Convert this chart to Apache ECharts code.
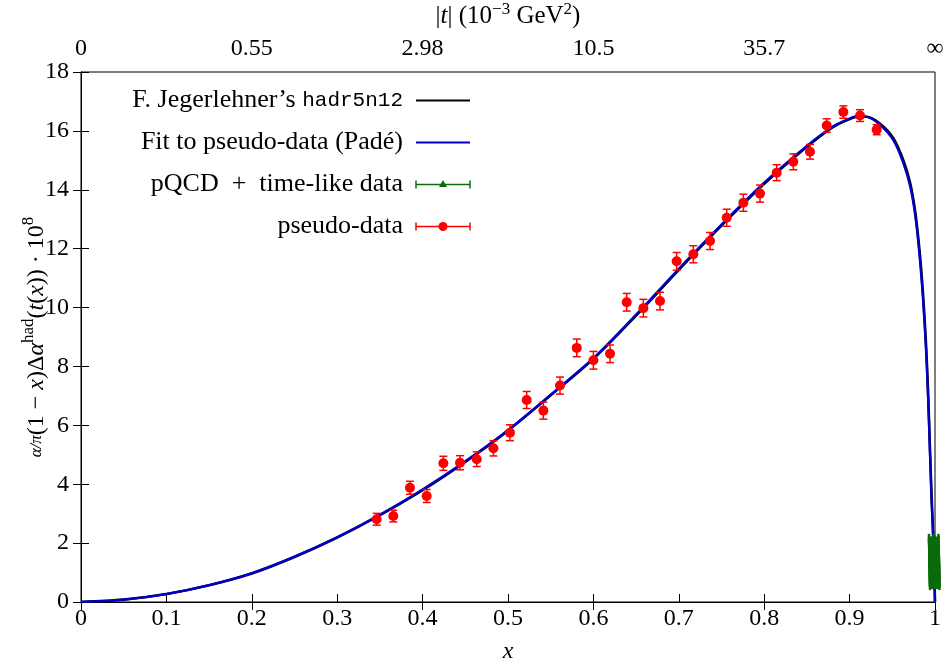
<!DOCTYPE html>
<html>
<head>
<meta charset="utf-8">
<script src="https://cdn.jsdelivr.net/npm/echarts@6/dist/echarts.min.js"></script>
<style>
html,body{margin:0;padding:0;background:#fff;}
#chart{width:947px;height:668px;}
</style>
</head>
<body>
<div id="chart"></div>
<script>
// ---- data ----
const xTickLabels = ['0','0.1','0.2','0.3','0.4','0.5','0.6','0.7','0.8','0.9','1'];
const topTickLabels = ['0','0.55','2.98','10.5','35.7','∞'];
const yTickLabels = ['0','2','4','6','8','10','12','14','16','18'];

// F. Jegerlehner's hadr5n12
const hadrX = [0,0.05,0.10,0.15,0.20,0.25,0.30,0.35,0.40,0.45,0.50,0.55,0.60,0.65,0.70,0.75,0.80,0.85,0.88,0.90,0.91,0.92,0.935,0.951,0.963,0.971,0.977,0.982,0.986,0.9895,0.992,0.994,0.996,0.9977,0.999,1.0];
const hadrY = [0,0.08,0.27,0.57,0.97,1.53,2.19,2.95,3.80,4.76,5.82,7.02,8.26,9.73,11.28,12.78,14.20,15.46,16.12,16.40,16.48,16.48,16.26,15.76,15.00,14.22,13.22,11.90,10.45,8.75,7.05,5.30,3.58,2.40,1.25,0];

// Fit to pseudo-data (Padé)
const padeX = [0,0.05,0.10,0.15,0.20,0.25,0.30,0.35,0.40,0.45,0.50,0.55,0.60,0.65,0.70,0.75,0.80,0.85,0.88,0.90,0.91,0.92,0.935,0.951,0.963,0.971,0.977,0.982,0.986,0.9895,0.992,0.994,0.996,0.9977,0.999,1.0];
const padeY = [0,0.08,0.27,0.57,0.98,1.54,2.20,2.96,3.82,4.78,5.84,7.04,8.28,9.76,11.32,12.82,14.24,15.49,16.14,16.42,16.50,16.48,16.22,15.69,14.90,14.10,13.09,11.73,10.26,8.56,6.86,5.16,3.46,2.33,1.20,0];

// pseudo-data
const pseudoX = [0.3462,0.3657,0.3852,0.4048,0.4243,0.4438,0.4634,0.4829,0.5023,0.5219,0.5414,0.5609,0.5805,0.6000,0.6195,0.6390,0.6585,0.6780,0.6975,0.7170,0.7366,0.7561,0.7756,0.7951,0.8146,0.8341,0.8536,0.8732,0.8927,0.9122,0.9317];
const pseudoY = [2.81,2.92,3.88,3.60,4.71,4.73,4.85,5.22,5.75,6.86,6.50,7.35,8.63,8.21,8.43,10.18,9.98,10.22,11.57,11.81,12.26,13.05,13.56,13.87,14.58,14.95,15.29,16.18,16.64,16.52,16.04];
const pseudoErr = [0.20,0.20,0.22,0.22,0.24,0.24,0.25,0.26,0.27,0.29,0.29,0.29,0.30,0.30,0.30,0.30,0.30,0.30,0.30,0.29,0.29,0.29,0.29,0.29,0.27,0.27,0.25,0.23,0.21,0.20,0.17];

// pQCD + time-like data
const pqcdX = [0.9985,0.9986,0.9986,0.9987,0.9987,0.9988,0.9988,0.9989,0.9989,0.9990,0.9990,0.9991,0.9991,0.9992,0.9992,0.9993,0.9993,0.9994,0.9994,0.9995,0.9995,0.9996,0.9996,0.9997];
const pqcdY = [2.18,2.10,2.03,1.96,1.89,1.82,1.75,1.68,1.61,1.54,1.47,1.40,1.33,1.26,1.19,1.12,1.05,0.98,0.91,0.84,0.77,0.70,0.62,0.54];
const pqcdErr = [0.0055,0.0055,0.0055,0.0055,0.0055,0.0055,0.0055,0.0055,0.0055,0.0055,0.0055,0.0055,0.0055,0.0055,0.0055,0.0055,0.0055,0.0055,0.0055,0.0055,0.0055,0.0055,0.0055,0.0055];

// ---- build ----
const zip2 = (a,b) => a.map((v,i)=>[v,b[i]]);
const zip3 = (a,b,c) => a.map((v,i)=>[v,b[i],c[i]]);

const SERIF = 'Liberation Serif';
const RED = '#ff0000', BLUE = '#0000cc', GREEN = '#0b6b0b';

const chart = echarts.init(document.getElementById('chart'), null, {renderer:'canvas'});

const tickStyle = {show:true, inside:true, length:8, lineStyle:{color:'#000', width:1}};
const lineStyleAx = {show:true, lineStyle:{color:'#000', width:1}};

const option = {
  animation:false,
  backgroundColor:'#fff',
  textStyle:{fontFamily:SERIF},
  grid:{left:81, right:12, top:72, height:530, show:true, borderColor:'#000', borderWidth:1,
        backgroundColor:'transparent', containLabel:false, outerBoundsMode:'none'},
  xAxis:[
    {type:'value', position:'bottom', min:0, max:1, interval:0.1,
     axisLine:lineStyleAx, axisTick:tickStyle, splitLine:{show:false},
     axisLabel:{color:'#000', fontFamily:SERIF, fontSize:24, margin:5,
       formatter:(v)=>xTickLabels[Math.round(v*10)]},
     name:'{i|x}', nameLocation:'middle', nameGap:38,
     nameTextStyle:{color:'#000', fontFamily:SERIF, fontSize:24, rich:{i:{fontStyle:'italic', fontFamily:SERIF, fontSize:24}}}
    },
    {type:'value', position:'top', min:0, max:1, interval:0.2,
     axisLine:lineStyleAx, axisTick:tickStyle, splitLine:{show:false},
     axisLabel:{color:'#000', fontFamily:SERIF, fontSize:24, margin:11,
       formatter:(v)=>topTickLabels[Math.round(v*5)]},
     name:'|{i|t}| (10{s|−3} GeV{s|2})', nameLocation:'middle', nameGap:40,
     nameTextStyle:{color:'#000', fontFamily:SERIF, fontSize:25,
       rich:{i:{fontStyle:'italic', fontFamily:SERIF, fontSize:25},
             s:{fontFamily:SERIF, fontSize:17, padding:[0,0,14,0]}}}
    }
  ],
  yAxis:[
    {type:'value', position:'left', min:0, max:18, interval:2,
     axisLine:lineStyleAx, axisTick:tickStyle, splitLine:{show:false},
     axisLabel:{color:'#000', fontFamily:SERIF, fontSize:24, margin:12,
       formatter:(v)=>yTickLabels[Math.round(v/2)]},
     name:'{f|α/π}(1 − {i|x})Δ{i|α}{s|had}({i|t}({i|x})) · 10{s|8}', nameLocation:'middle', nameGap:28, nameRotate:90,
     nameMoveOverlap:false,
     nameTextStyle:{color:'#000', fontFamily:SERIF, fontSize:24,
       rich:{i:{fontStyle:'italic', fontFamily:SERIF, fontSize:24},
             f:{fontStyle:'italic', fontFamily:SERIF, fontSize:17},
             s:{fontFamily:SERIF, fontSize:17, padding:[0,0,16,0]}}}
    },
    {type:'value', position:'right', min:0, max:18, interval:2,
     axisLine:lineStyleAx, axisTick:tickStyle, splitLine:{show:false},
     axisLabel:{show:false}}
  ],
  series:[
    {name:"F. Jegerlehner's hadr5n12", type:'line', xAxisIndex:0, yAxisIndex:0,
     data:zip2(hadrX,hadrY), showSymbol:false, smooth:0.3, z:2,
     lineStyle:{color:'#000', width:2.6}},
    {name:'Fit to pseudo-data (Padé)', type:'line', xAxisIndex:0, yAxisIndex:0,
     data:zip2(padeX,padeY), showSymbol:false, smooth:0.3, z:3,
     lineStyle:{color:BLUE, width:2.3}},
    {name:'pseudo-data err', type:'custom', xAxisIndex:0, yAxisIndex:0, z:4,
     data:zip3(pseudoX,pseudoY,pseudoErr),
     encode:{x:0, y:1},
     renderItem:(params, api)=>{
       const x=api.value(0), y=api.value(1), e=api.value(2);
       const t=api.coord([x,y+e]), b=api.coord([x,y-e]);
       const hw=4, st={stroke:RED, lineWidth:1.5};
       return {type:'group', children:[
         {type:'line', shape:{x1:t[0],y1:t[1],x2:b[0],y2:b[1]}, style:st},
         {type:'line', shape:{x1:t[0]-hw,y1:t[1],x2:t[0]+hw,y2:t[1]}, style:st},
         {type:'line', shape:{x1:b[0]-hw,y1:b[1],x2:b[0]+hw,y2:b[1]}, style:st}
       ]};
     }},
    {name:'pseudo-data', type:'scatter', xAxisIndex:0, yAxisIndex:0, z:5,
     data:zip2(pseudoX,pseudoY), symbol:'circle', symbolSize:10,
     itemStyle:{color:RED, opacity:1}},
    {name:'pQCD + time-like data', type:'custom', xAxisIndex:0, yAxisIndex:0, z:6,
     data:zip3(pqcdX,pqcdY,pqcdErr),
     encode:{x:0, y:1},
     renderItem:(params, api)=>{
       const x=api.value(0), y=api.value(1), e=api.value(2);
       const l=api.coord([x-e,y]), r=api.coord([x+e,y]), c=api.coord([x,y]);
       const hh=4, st={stroke:GREEN, lineWidth:2.5};
       return {type:'group', children:[
         {type:'line', shape:{x1:l[0],y1:l[1],x2:r[0],y2:r[1]}, style:st},
         {type:'line', shape:{x1:l[0],y1:l[1]-hh,x2:l[0],y2:l[1]+hh}, style:st},
         {type:'line', shape:{x1:r[0],y1:r[1]-hh,x2:r[0],y2:r[1]+hh}, style:st},
         {type:'polygon', shape:{points:[[c[0],c[1]-5],[c[0]-5,c[1]+3],[c[0]+5,c[1]+3]]}, style:{fill:GREEN}}
       ]};
     }}
  ],
  graphic:[
    {type:'text', right:947-403, top:87, style:{text:"F. Jegerlehner’s {m|hadr5n12}", font:'26px "Liberation Serif"', fill:'#000',
      rich:{m:{fontFamily:'Liberation Mono', fontSize:21}}}},
    {type:'line', shape:{x1:416,y1:100.5,x2:470,y2:100.5}, style:{stroke:'#000', lineWidth:2}},
    {type:'text', right:947-403, top:129, style:{text:'Fit to pseudo-data (Padé)', font:'26px "Liberation Serif"', fill:'#000'}},
    {type:'line', shape:{x1:416,y1:142.5,x2:470,y2:142.5}, style:{stroke:BLUE, lineWidth:2}},
    {type:'text', right:947-403, top:171, style:{text:'pQCD\u2002+\u2002time-like data', font:'26px "Liberation Serif"', fill:'#000'}},
    {type:'line', shape:{x1:416,y1:184.5,x2:470,y2:184.5}, style:{stroke:GREEN, lineWidth:1.5}},
    {type:'line', shape:{x1:416,y1:180.5,x2:416,y2:188.5}, style:{stroke:GREEN, lineWidth:1.5}},
    {type:'line', shape:{x1:470,y1:180.5,x2:470,y2:188.5}, style:{stroke:GREEN, lineWidth:1.5}},
    {type:'polygon', shape:{points:[[443,180],[439,187],[447,187]]}, style:{fill:GREEN}},
    {type:'text', right:947-403, top:213, style:{text:'pseudo-data', font:'26px "Liberation Serif"', fill:'#000'}},
    {type:'line', shape:{x1:416,y1:226.5,x2:470,y2:226.5}, style:{stroke:RED, lineWidth:1.5}},
    {type:'line', shape:{x1:416,y1:222.5,x2:416,y2:230.5}, style:{stroke:RED, lineWidth:1.5}},
    {type:'line', shape:{x1:470,y1:222.5,x2:470,y2:230.5}, style:{stroke:RED, lineWidth:1.5}},
    {type:'circle', shape:{cx:443,cy:226.5,r:4.5}, style:{fill:RED}}
  ]
};
chart.setOption(option);
</script>
</body>
</html>
